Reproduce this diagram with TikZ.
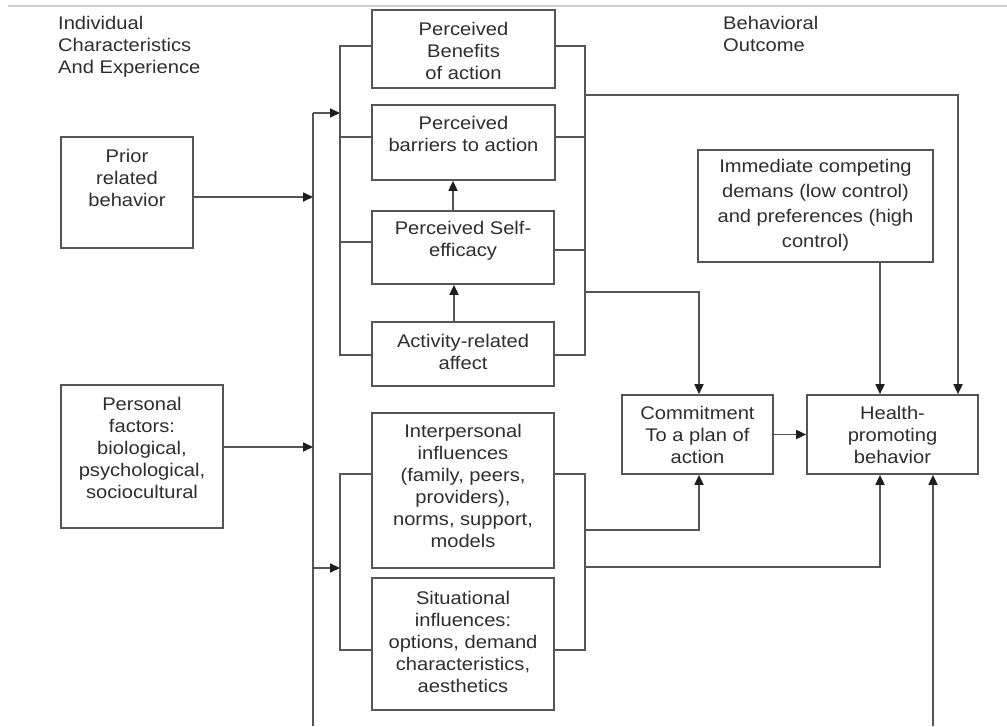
\documentclass[tikz,border=0pt]{standalone}
\usepackage{fontspec}
\setmainfont{Liberation Sans}[FakeStretch=1.1]
\usetikzlibrary{arrows.meta}
\definecolor{ln}{HTML}{555555}
\definecolor{tx}{HTML}{2E2E2E}
\definecolor{tip}{HTML}{1E1E1E}
\begin{document}
\begin{tikzpicture}[x=1pt,y=-1pt,
  box/.style={draw=ln, line width=1.7pt, inner sep=0pt},
  txt/.style={text=tx, align=center, font=\fontsize{18.3}{22}\selectfont, inner sep=0pt},
  hdr/.style={txt, align=left, anchor=north west},
  line/.style={draw=ln, line width=1.7pt},
  arr/.style={line, -{Triangle[length=10pt,width=9pt,color=tip]}}]
\fill[white] (0,0) rectangle (1007,726);
\useasboundingbox (0,0) rectangle (1007,726);
\draw[black!18, line width=1.2pt] (8,6) -- (1007,6);

% headers
\node[hdr] (hdrL) at (58,16) {Individual\\Characteristics\\And Experience};
\node[hdr] (hdrR) at (723,16) {Behavioral\\Outcome};

% boxes
\node[box, minimum width=132pt, minimum height=111pt] (prior) at (127,192.5) {};
\node[txt] (priorT) at (127,178) {Prior\\related\\behavior};
\node[box, minimum width=162pt, minimum height=143pt] (personal) at (142,456.5) {};
\node[txt] (personalT) at (142,448) {Personal\\factors:\\biological,\\psychological,\\sociocultural};

\node[box, minimum width=183pt, minimum height=78pt] (benefits) at (463.5,49) {};
\node[txt] (benefitsT) at (463.5,51) {Perceived\\Benefits\\of action};
\node[box, minimum width=183pt, minimum height=75pt] (barriers) at (463.5,142.5) {};
\node[txt] (barriersT) at (463.5,134) {Perceived\\barriers to action};
\node[box, minimum width=182pt, minimum height=73pt] (self) at (463,247.5) {};
\node[txt] (selfT) at (463,241) {Perceived Self-\\efficacy};
\node[box, minimum width=182pt, minimum height=64pt] (activity) at (463,354) {};
\node[txt] (activityT) at (463,352) {Activity-related\\affect};
\node[box, minimum width=182pt, minimum height=155pt] (interp) at (463,490.5) {};
\node[txt] (interpT) at (463,485.5) {Interpersonal\\influences\\(family, peers,\\providers),\\norms, support,\\models};
\node[box, minimum width=182pt, minimum height=132pt] (situ) at (463,644) {};
\node[txt] (situT) at (463,641.5) {Situational\\influences:\\options, demand\\characteristics,\\aesthetics};

\node[box, minimum width=235pt, minimum height=112pt] (immediate) at (815.5,206) {};
\node[txt, font=\fontsize{18.3}{25}\selectfont] (immediateT) at (815.5,205.5) {Immediate competing\\demans (low control)\\and preferences (high\\control)};
\node[box, minimum width=151pt, minimum height=79pt] (commit) at (697.5,434.5) {};
\node[txt] (commitT) at (697.5,435) {Commitment\\To a plan of\\action};
\node[box, minimum width=171pt, minimum height=79pt] (health) at (892.5,434.5) {};
\node[txt] (healthT) at (892.5,435) {Health-\\promoting\\behavior};

% bus coordinates
\coordinate (b1t) at (313,113);
\coordinate (b1m) at (313,568);
\coordinate (b1b) at (313,726);
\coordinate (l1t) at (340,46);
\coordinate (l1b) at (340,355);
\coordinate (l2t) at (340,474);
\coordinate (l2b) at (340,650);
\coordinate (r1t) at (585,46);
\coordinate (r1b) at (585,355);
\coordinate (r2t) at (585,474);
\coordinate (r2b) at (585,650);
\coordinate (o1) at (585,95);
\coordinate (o2) at (585,292);
\coordinate (o3) at (585,530);
\coordinate (o4) at (585,567);
\coordinate (bt) at (933,726);

% left inputs
\draw[line] (b1t) -- (b1b);
\draw[arr] (b1t) -- (b1t -| l1t);
\draw[arr] (b1m) -- (b1m -| l2t);
\draw[arr] ([yshift=-4.5pt]prior.east) -- ([yshift=-4.5pt]prior.east -| b1t);
\draw[arr] ([yshift=9.5pt]personal.east) -- ([yshift=9.5pt]personal.east -| b1t);

% brackets upper group
\draw[line] (benefits.west |- l1t) -- (l1t) -- (l1b) -- (activity.west |- l1b);
\draw[line] ([yshift=5.5pt]barriers.west) -- ([yshift=5.5pt]barriers.west -| l1t);
\draw[line] ([yshift=5.5pt]self.west) -- ([yshift=5.5pt]self.west -| l1t);
\draw[line] (benefits.east |- r1t) -- (r1t) -- (r1b) -- (activity.east |- r1b);
\draw[line] ([yshift=5.5pt]barriers.east) -- ([yshift=5.5pt]barriers.east -| r1t);
\draw[line] ([yshift=-2.5pt]self.east) -- ([yshift=-2.5pt]self.east -| r1t);

% brackets lower group
\draw[line] (interp.west |- l2t) -- (l2t) -- (l2b) -- (situ.west |- l2b);
\draw[line] (interp.east |- r2t) -- (r2t) -- (r2b) -- (situ.east |- r2b);

% internal arrows
\draw[arr] ([xshift=-9pt]activity.north) -- ([xshift=-9pt]self.south);
\draw[arr] ([xshift=-10pt]self.north) -- ([xshift=-10.5pt]barriers.south);

% outputs
\draw[arr] (o1) -| ([xshift=65.5pt]health.north);
\draw[arr] (o2) -| ([xshift=1.5pt]commit.north);
\draw[arr] (o3) -| ([xshift=1.5pt]commit.south);
\draw[arr] (o4) -| ([xshift=-12.5pt]health.south);
\draw[arr] ([xshift=64.5pt]immediate.south) -- ([xshift=-12.5pt]health.north);
\draw[arr] (bt) -- (bt |- health.south);
\draw[arr] (commit.east) -- (commit.east -| health.west);
\end{tikzpicture}
\end{document}
